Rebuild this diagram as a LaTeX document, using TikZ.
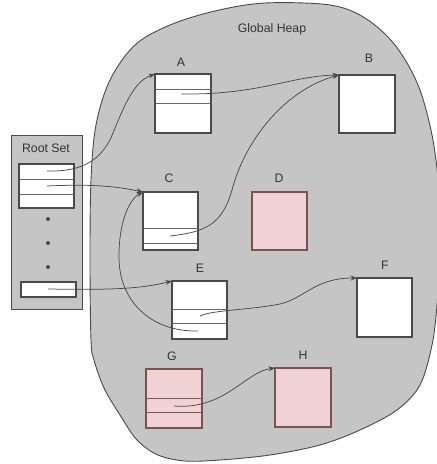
\documentclass[tikz,border=0pt]{standalone}
\usepackage{fontspec}
\setmainfont{Liberation Sans}
\usetikzlibrary{arrows.meta}
\definecolor{heapgray}{HTML}{C5C5C5}
\definecolor{edgegray}{HTML}{4A4A4A}
\definecolor{txtgray}{HTML}{333333}
\definecolor{pinkfill}{HTML}{F0D2D4}
\definecolor{pinkedge}{HTML}{7A5252}
\tikzset{
  objbox/.style={draw=edgegray, fill=white, line width=1.1pt, inner sep=0pt, outer sep=0pt, anchor=north west},
  garbage/.style={objbox, draw=pinkedge, fill=pinkfill},
  rowline/.style={draw=edgegray!85, line width=0.7pt},
  lbl/.style={text=txtgray, font=\fontsize{12.3}{14}\selectfont, inner sep=0pt},
  ref/.style={draw=edgegray, line width=0.75pt, -{Stealth[length=6.5pt,width=5pt]}},
  dotmark/.style={circle, fill=edgegray, inner sep=0pt, minimum size=4pt}
}
\begin{document}
\begin{tikzpicture}[x=1pt,y=-1pt]
\useasboundingbox[fill=white] (0,0) rectangle (437,464);
\begin{scope}
\clip (0,0) rectangle (437,464);
% global heap blob
\draw[fill=heapgray, draw=edgegray, line width=0.9pt]
  plot[smooth cycle, tension=0.55] coordinates {
    (91,340) (90,260) (91,180) (96,125) (110,80) (135,45) (170,25) (215,11)
    (265,3) (330,5) (365,18) (395,45) (418,85) (432,135) (439,190) (440,250)
    (437,305) (432,345) (420,385) (397,410) (360,430) (320,445) (270,455)
    (220,460) (185,461) (158,455) (137,440) (120,415) (104,388) (94,360)};
\end{scope}
\node[lbl] (heaplbl) at (272,29) {Global Heap};

% root set
\node[draw=edgegray, fill=heapgray, line width=1.1pt, inner sep=0pt, anchor=north west,
      minimum width=71pt, minimum height=174pt] (root) at (11,135) {};
\node[lbl] (rootlbl) at (46,148) {Root Set};
\node[objbox, minimum width=55pt, minimum height=44pt] (rs1) at (19,164) {};
\draw[rowline] ([yshift=-15pt]rs1.north west) -- ([yshift=-15pt]rs1.north east);
\draw[rowline] ([yshift=-30pt]rs1.north west) -- ([yshift=-30pt]rs1.north east);
\node[dotmark] (d1) at (48,219) {};
\node[dotmark] (d2) at (48,243) {};
\node[dotmark] (d3) at (48,267) {};
\node[objbox, minimum width=55pt, minimum height=15pt] (rs2) at (21,282) {};

% objects
\node[objbox, minimum width=56pt, minimum height=59pt] (A) at (155,74) {};
\draw[rowline] ([yshift=-15pt]A.north west) -- ([yshift=-15pt]A.north east);
\draw[rowline] ([yshift=-29pt]A.north west) -- ([yshift=-29pt]A.north east);
\node[lbl] (labA) at (181,62) {A};

\node[objbox, minimum width=56pt, minimum height=58pt] (B) at (339,75) {};
\node[lbl] (labB) at (369,58) {B};

\node[objbox, minimum width=55pt, minimum height=58pt] (C) at (143,192) {};
\draw[rowline] ([yshift=-36pt]C.north west) -- ([yshift=-36pt]C.north east);
\draw[rowline] ([yshift=-51pt]C.north west) -- ([yshift=-51pt]C.north east);
\node[lbl] (labC) at (169,178) {C};

\node[garbage, minimum width=55pt, minimum height=58pt] (D) at (252,192) {};
\node[lbl] (labD) at (279,178) {D};

\node[objbox, minimum width=55pt, minimum height=58pt] (E) at (172,281) {};
\draw[rowline] ([yshift=-28pt]E.north west) -- ([yshift=-28pt]E.north east);
\draw[rowline] ([yshift=-42pt]E.north west) -- ([yshift=-42pt]E.north east);
\node[lbl] (labE) at (200,268) {E};

\node[objbox, minimum width=55pt, minimum height=59pt] (F) at (357,278) {};
\node[lbl] (labF) at (385,265) {F};

\node[garbage, minimum width=56pt, minimum height=59pt] (G) at (146,369) {};
\draw[rowline, draw=pinkedge] ([yshift=-29pt]G.north west) -- ([yshift=-29pt]G.north east);
\draw[rowline, draw=pinkedge] ([yshift=-43pt]G.north west) -- ([yshift=-43pt]G.north east);
\node[lbl] (labG) at (172,356) {G};

\node[garbage, minimum width=56pt, minimum height=59pt] (H) at (275,368) {};
\node[lbl] (labH) at (303,355) {H};

% pointer origins
\coordinate (r1) at (47,171);
\coordinate (r2) at (47,186);
\coordinate (r3) at (48,289);
\coordinate (a1) at (181,94);
\coordinate (c1) at (170,236);
\coordinate (e1) at (200,316);
\coordinate (e2) at (198,331);
\coordinate (g1) at (174,406);

% pointers
\draw[ref] (r1) .. controls (85,172) and (100,158) .. (110,140)
               .. controls (122,112) and (132,82) .. (A.north west);
\draw[ref] (r2) .. controls (90,184) and (115,186) .. (C.north west);
\draw[ref] (r3) .. controls (110,290) and (140,289) .. (E.north west);
\draw[ref] (a1) .. controls (260,95) and (290,76) .. (B.north west);
\draw[ref] (c1) .. controls (205,232) and (222,225) .. (232,190)
               .. controls (245,140) and (285,90) .. (B.north west);
\draw[ref] (e1) .. controls (212,310) and (250,310) .. (280,304)
               .. controls (305,298) and (315,278) .. (F.north west);
\draw[ref] (e2) .. controls (150,332) and (118,300) .. (119,255)
               .. controls (119,225) and (128,200) .. (C.north west);
\draw[ref] (g1) .. controls (225,410) and (245,372) .. (H.north west);
\end{tikzpicture}
\end{document}
